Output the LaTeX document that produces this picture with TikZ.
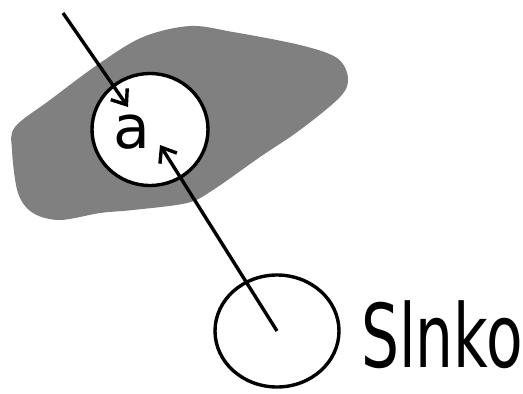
\documentclass[tikz,border=0pt]{standalone}
\usepackage{fontspec}
\setmainfont{DejaVu Sans}
\usetikzlibrary{arrows.meta,shapes.geometric}
\definecolor{blobgray}{RGB}{128,128,128}
\begin{document}
\begin{tikzpicture}[x=1pt,y=-1pt,line width=3.4pt,
  ring/.style={ellipse,draw=black,fill=white,inner sep=0pt},
  ray/.style={-{Straight Barb[length=13pt,width=20pt]}},
  lbl/.style={inner sep=0pt,anchor=base,text=black}]
\useasboundingbox (0,0) rectangle (523,394);
\fill[blobgray] plot[smooth cycle,tension=0.55] coordinates {
 (15,127) (50,100) (100,63) (143,37) (190,26) (233,32) (300,45) (337,58)
 (348,78) (340,97) (300,130) (260,157) (213,190) (187,203) (133,210)
 (100,213) (60,220) (33,213) (18,193) (12,150)};
\node[ring,minimum width=116pt,minimum height=112pt] (cell) at (150,129.5) {};
\node[ring,minimum width=124pt,minimum height=112pt] (sun) at (277,331) {};
\node[lbl,font=\fontsize{60}{60}\selectfont] (a) at (132,148) {a};
\node[lbl,font=\fontsize{88}{88}\selectfont] (slnko) at (442,367) {\scalebox{0.68}[1]{Slnko}};
\coordinate (src) at (63,13);
\coordinate (tip1) at (128,107);
\coordinate (tip2) at (160,145);
\draw[ray] (src) -- (tip1);
\draw[ray] (sun.center) -- (tip2);
\end{tikzpicture}
\end{document}
